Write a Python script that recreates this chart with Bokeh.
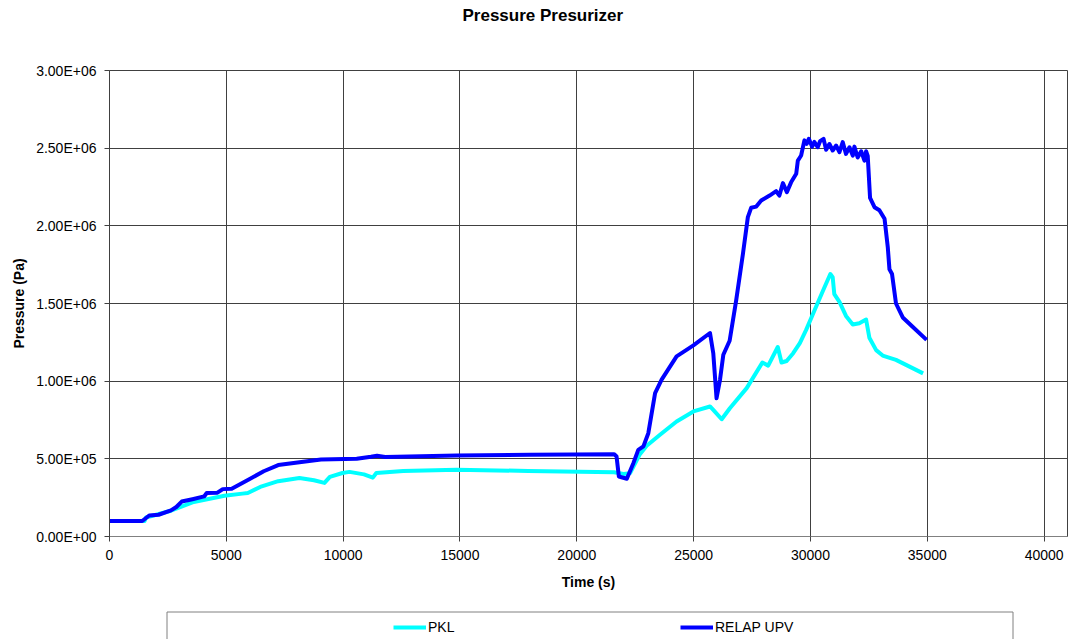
from bokeh.plotting import figure
from bokeh.layouts import column
from bokeh.models import Range1d, FixedTicker, Legend, LegendItem, Label, BoxAnnotation
from bokeh.embed import file_html
from bokeh.resources import INLINE

# ---- data ----
t_pkl = [0, 1500, 1560, 2630, 3550, 4920, 5690, 5920, 6450, 7220, 8130, 8750, 9200, 9430,
         9970, 10270, 10890, 11270, 11420, 12570, 14860, 17920, 21590, 22000, 22280, 22700,
         22990, 23560, 24270, 24990, 25700, 25840, 26200, 26550, 27270, 27940, 28190, 28600,
         28760, 28980, 29260, 29545, 29815, 30170, 30530, 30850, 30950, 31020, 31240, 31520,
         31810, 32090, 32380, 32520, 32810, 33090, 33660, 34820]
p_pkl = [1.0e5, 1.0e5, 1.22e5, 1.66e5, 2.2e5, 2.62e5, 2.76e5, 2.8e5, 3.19e5, 3.56e5, 3.77e5,
         3.62e5, 3.45e5, 3.84e5, 4.09e5, 4.16e5, 4.0e5, 3.79e5, 4.09e5, 4.22e5, 4.3e5, 4.22e5,
         4.13e5, 4.03e5, 4.08e5, 5.3e5, 5.84e5, 6.55e5, 7.4e5, 8.05e5, 8.37e5, 8.15e5, 7.55e5,
         8.26e5, 9.55e5, 1.12e6, 1.10e6, 1.22e6, 1.12e6, 1.13e6, 1.18e6, 1.245e6, 1.33e6,
         1.455e6, 1.58e6, 1.69e6, 1.67e6, 1.56e6, 1.51e6, 1.42e6, 1.365e6, 1.373e6, 1.397e6,
         1.28e6, 1.2e6, 1.165e6, 1.137e6, 1.05e6]

t_relap = [0, 1400, 1700, 2100, 2630, 2860, 3090, 3550, 4050, 4160, 4620, 4850, 5230, 6000,
           6600, 7220, 8130, 9050, 10580, 11190, 11450, 11800, 14860, 18000, 21600, 21700,
           21800, 22140, 22420, 22630, 22850, 23060, 23350, 23630, 24270, 24990, 25700, 25840,
           25980, 26130, 26270, 26540, 26820, 27110, 27320, 27460, 27680, 27890, 28250, 28530,
           28670, 28820, 28990, 29170, 29390, 29460, 29600, 29740, 29840, 29930, 30070, 30170,
           30310, 30410, 30560, 30670, 30810, 30950, 31100, 31240, 31380, 31520, 31670, 31810,
           31880, 32020, 32170, 32310, 32380, 32450, 32550, 32740, 32950, 33170, 33310, 33380,
           33490, 33660, 33950, 34370, 34970]
p_relap = [1.0e5, 1.0e5, 1.35e5, 1.4e5, 1.68e5, 1.9e5, 2.25e5, 2.4e5, 2.58e5, 2.8e5, 2.82e5,
           3.05e5, 3.08e5, 3.7e5, 4.2e5, 4.6e5, 4.78e5, 4.95e5, 5.0e5, 5.13e5, 5.2e5, 5.12e5,
           5.22e5, 5.26e5, 5.3e5, 5.15e5, 3.86e5, 3.72e5, 4.72e5, 5.58e5, 5.8e5, 6.65e5, 9.23e5,
           1.01e6, 1.16e6, 1.23e6, 1.31e6, 1.18e6, 8.9e5, 1.01e6, 1.17e6, 1.26e6, 1.52e6,
           1.82e6, 2.056e6, 2.116e6, 2.124e6, 2.163e6, 2.195e6, 2.223e6, 2.195e6, 2.275e6,
           2.217e6, 2.28e6, 2.335e6, 2.42e6, 2.453e6, 2.55e6, 2.528e6, 2.56e6, 2.51e6, 2.54e6,
           2.506e6, 2.545e6, 2.56e6, 2.49e6, 2.527e6, 2.485e6, 2.517e6, 2.474e6, 2.539e6,
           2.463e6, 2.506e6, 2.452e6, 2.51e6, 2.44e6, 2.48e6, 2.42e6, 2.48e6, 2.45e6, 2.18e6,
           2.12e6, 2.10e6, 2.045e6, 1.86e6, 1.72e6, 1.69e6, 1.50e6, 1.41e6, 1.35e6, 1.266e6]

x_ticks = [0, 5000, 10000, 15000, 20000, 25000, 30000, 35000, 40000]
x_tick_labels = ["0", "5000", "10000", "15000", "20000", "25000", "30000", "35000", "40000"]
y_ticks = [0, 500000, 1000000, 1500000, 2000000, 2500000, 3000000]
y_tick_labels = ["0.00E+00", "5.00E+05", "1.00E+06", "1.50E+06", "2.00E+06", "2.50E+06", "3.00E+06"]

series_names = ["PKL", "RELAP UPV"]
series_colors = ["#00FFFF", "#0000FF"]

title_text = "Pressure Presurizer"
x_label = "Time (s)"
y_label = "Pressure (Pa)"

FONT = "Liberation Sans"
GRID = "#404040"
BORDERS = dict(min_border_left=109, min_border_right=1)


def strip(height, top):
    f = figure(width=1068, height=height, output_backend="svg", toolbar_location=None,
               x_range=Range1d(0, 1), y_range=Range1d(0, 1), x_axis_type=None,
               y_axis_type=None, min_border_top=top, min_border_bottom=0, **BORDERS)
    f.xgrid.visible = False
    f.ygrid.visible = False
    f.outline_line_color = None
    return f


# ---------------- title strip ----------------
tt = strip(40, 0)
tt.add_layout(Label(x=353, y=25, x_units="screen", y_units="screen", text=title_text,
                    text_align="left", text_baseline="middle", text_font=FONT,
                    text_font_style="bold", text_font_size="17px", text_color="black"))

# ---------------- main chart ----------------
p = figure(width=1068, height=570, output_backend="svg", toolbar_location=None,
           x_range=Range1d(0, 41000), y_range=Range1d(0, 3000000),
           min_border_top=30, min_border_bottom=74, **BORDERS)

r_pkl = p.line(t_pkl, p_pkl, line_color=series_colors[0], line_width=4, line_join="round")
r_rel = p.line(t_relap, p_relap, line_color=series_colors[1], line_width=4, line_join="round")

p.xaxis.ticker = FixedTicker(ticks=x_ticks)
p.yaxis.ticker = FixedTicker(ticks=y_ticks)
p.xaxis.major_label_overrides = {t: l for t, l in zip(x_ticks, x_tick_labels)}
p.yaxis.major_label_overrides = {t: l for t, l in zip(y_ticks, y_tick_labels)}

for ax in (p.xaxis[0], p.yaxis[0]):
    ax.minor_tick_line_color = None
    ax.major_tick_in = 0
    ax.major_tick_out = 5
    ax.major_tick_line_color = GRID
    ax.axis_line_color = GRID
    ax.major_label_text_font = FONT
    ax.major_label_text_font_size = "14px"
    ax.major_label_text_color = "black"
    ax.axis_label_text_font = FONT
    ax.axis_label_text_font_style = "bold"
    ax.axis_label_text_font_size = "14px"
    ax.axis_label_text_color = "black"

p.xaxis.axis_line_color = "#808080"
p.xaxis.major_label_standoff = 8
p.yaxis.major_label_standoff = 8
p.xaxis.axis_label = x_label
p.yaxis.axis_label = y_label
p.xaxis.axis_label_standoff = 11
p.yaxis.axis_label_standoff = 6

p.xgrid.grid_line_color = GRID
p.ygrid.grid_line_color = GRID
p.xgrid.grid_line_alpha = 1
p.ygrid.grid_line_alpha = 1
p.outline_line_color = GRID
p.outline_line_alpha = 1

# ---------------- legend strip ----------------
lg = strip(29, 0)
k_pkl = lg.line(t_pkl, p_pkl, line_color=series_colors[0], line_width=4)
k_rel = lg.line(t_relap, p_relap, line_color=series_colors[1], line_width=4)
legend = Legend(items=[LegendItem(label=series_names[0], renderers=[k_pkl]),
                       LegendItem(label=series_names[1], renderers=[k_rel])],
                orientation="horizontal", location=(284, 2), padding=0, spacing=0,
                margin=0, glyph_width=33, glyph_height=20, label_height=20,
                label_standoff=2, label_width=252, label_text_font=FONT,
                label_text_font_size="14px", label_text_color="black",
                border_line_color=None, background_fill_alpha=0)
lg.add_layout(legend, "center")
lg.add_layout(BoxAnnotation(left=57.5, right=903.5, top=27.5, bottom=-20,
                            left_units="screen", right_units="screen",
                            top_units="screen", bottom_units="screen",
                            fill_alpha=0, line_color="#808080", line_alpha=1, line_width=1))

page = column(tt, p, lg, spacing=0)
open("out.html", "w").write(file_html(page, INLINE))
